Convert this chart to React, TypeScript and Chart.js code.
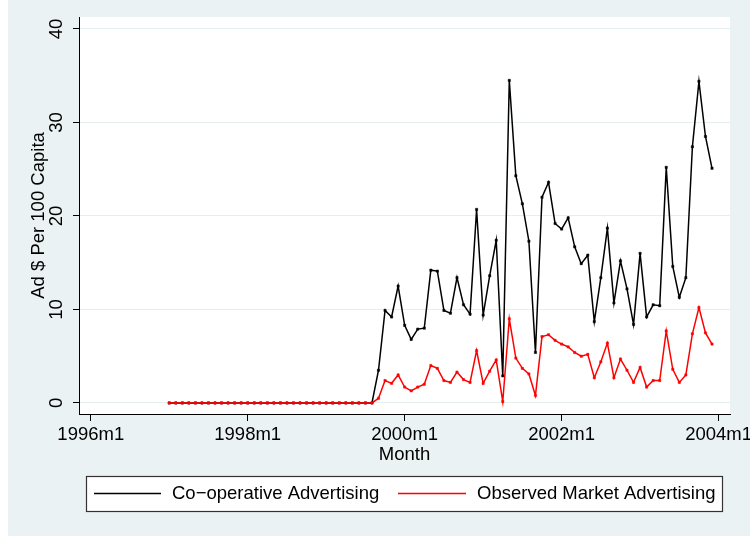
import React, { useEffect, useRef } from "react";
import { Chart, registerables } from "chart.js";

Chart.register(...registerables);

// Monthly observations from 1997m1 to 2003m12
const START_YEAR = 1997;
const AXIS_START_YEAR = 1996;

const coopAdvertising = [
  0, 0, 0, 0, 0, 0, 0, 0, 0, 0, 0, 0,
  0, 0, 0, 0, 0, 0, 0, 0, 0, 0, 0, 0,
  0, 0, 0, 0, 0, 0, 0, 0,
  3.5, 9.9, 9.2, 12.5, 8.3, 6.8, 7.9, 8.0, 14.2, 14.1,
  9.9, 9.6, 13.4, 10.5, 9.5, 20.7, 9.4, 13.6, 17.4, 2.9,
  34.5, 24.3, 21.3, 17.3, 5.4, 22.0, 23.6, 19.2, 18.6, 19.8,
  16.7, 14.9, 15.8, 8.7, 13.4, 18.7, 10.7, 15.2, 12.2, 8.4,
  16.0, 9.2, 10.5, 10.4, 25.2, 14.6, 11.3, 13.4, 27.4, 34.4,
  28.5, 25.1,
];

const marketAdvertising = [
  0, 0, 0, 0, 0, 0, 0, 0, 0, 0, 0, 0,
  0, 0, 0, 0, 0, 0, 0, 0, 0, 0, 0, 0,
  0, 0, 0, 0, 0, 0, 0, 0,
  0.5, 2.4, 2.1, 3.0, 1.7, 1.3, 1.7, 2.0, 4.0, 3.7,
  2.4, 2.2, 3.3, 2.5, 2.2, 5.6, 2.1, 3.4, 4.6, 0.15,
  9.0, 4.8, 3.7, 3.1, 0.8, 7.1, 7.3, 6.7, 6.3, 6.0,
  5.4, 5.0, 5.2, 2.7, 4.4, 6.4, 2.7, 4.7, 3.5, 2.2,
  3.8, 1.7, 2.4, 2.4, 7.7, 3.6, 2.2, 3.0, 7.4, 10.2,
  7.5, 6.3,
];

const xTickLabels = ["1996m1", "1998m1", "2000m1", "2002m1", "2004m1"];
const yTickValues = [0, 10, 20, 30, 40];
const seriesNames = ["Co\u2212operative Advertising", "Observed Market Advertising"];
const seriesColors = ["#000000", "#ff0000"];

const FONT = '"Liberation Sans", Arial, Helvetica, sans-serif';
const FONT_SIZE = 18.5;
const BG = "#eaf2f3";
const GRID = "#e6eef0";

// month offset (from 1996m1) of each observation
const monthIndex = (i: number) => (START_YEAR - AXIS_START_YEAR) * 12 + i;
const labelToIndex = (s: string) => {
  const [y, m] = s.split("m").map(Number);
  return (y - AXIS_START_YEAR) * 12 + (m - 1);
};
const indexToLabel = (v: number) =>
  `${AXIS_START_YEAR + Math.floor(v / 12)}m${(v % 12) + 1}`;

const backgroundPlugin = {
  id: "stataBackground",
  beforeDraw(chart: any) {
    const { ctx, chartArea } = chart;
    ctx.save();
    ctx.fillStyle = BG;
    ctx.fillRect(0, 0, chart.width, chart.height);
    ctx.fillStyle = "#ffffff";
    ctx.fillRect(
      chartArea.left,
      chartArea.top,
      chartArea.right - chartArea.left,
      chartArea.bottom - chartArea.top
    );
    ctx.restore();
  },
};

const legendPlugin = {
  id: "stataLegend",
  afterDraw(chart: any) {
    const { ctx } = chart;
    const boxLeft = 78;
    const boxRight = 714;
    const boxTop = 476;
    const boxBottom = 511;
    const cy = (boxTop + boxBottom) / 2;
    ctx.save();
    ctx.fillStyle = "#ffffff";
    ctx.fillRect(boxLeft, boxTop, boxRight - boxLeft, boxBottom - boxTop);
    ctx.strokeStyle = "#333333";
    ctx.lineWidth = 1.2;
    ctx.strokeRect(boxLeft + 0.5, boxTop + 0.5, boxRight - boxLeft, boxBottom - boxTop);
    const items = [
      { x0: 86, x1: 153, tx: 164 },
      { x0: 390, x1: 458, tx: 469 },
    ];
    ctx.font = `${FONT_SIZE}px ${FONT}`;
    ctx.textBaseline = "middle";
    ctx.textAlign = "left";
    items.forEach((it, i) => {
      ctx.strokeStyle = seriesColors[i];
      ctx.lineWidth = 1.5;
      ctx.beginPath();
      ctx.moveTo(it.x0, cy);
      ctx.lineTo(it.x1, cy);
      ctx.stroke();
      ctx.fillStyle = "#000000";
      ctx.fillText(seriesNames[i], it.tx, cy + 0.5);
    });
    ctx.restore();
  },
};

export default function App() {
  const canvasRef = useRef<HTMLCanvasElement | null>(null);

  useEffect(() => {
    if (!canvasRef.current) return;
    const makeData = (vals: number[]) =>
      vals.map((v, i) => ({ x: monthIndex(i), y: v }));

    const chart = new Chart(canvasRef.current, {
      type: "line",
      data: {
        datasets: [
          {
            label: seriesNames[0],
            data: makeData(coopAdvertising),
            borderColor: seriesColors[0],
            backgroundColor: seriesColors[0],
            pointBackgroundColor: seriesColors[0],
            pointBorderColor: seriesColors[0],
            borderWidth: 1.5,
            pointStyle: "rect",
            pointRadius: 1.6,
            pointBorderWidth: 0.5,
            tension: 0,
            order: 1,
          },
          {
            label: seriesNames[1],
            data: makeData(marketAdvertising),
            borderColor: seriesColors[1],
            backgroundColor: seriesColors[1],
            pointBackgroundColor: seriesColors[1],
            pointBorderColor: seriesColors[1],
            borderWidth: 1.5,
            pointStyle: "rect",
            pointRadius: 1.6,
            pointBorderWidth: 0.5,
            tension: 0,
            order: 0,
          },
        ],
      },
      options: {
        animation: false,
        responsive: false,
        maintainAspectRatio: false,
        layout: { padding: { left: 0, right: 20, top: 17, bottom: 70 } },
        plugins: {
          legend: { display: false },
          tooltip: { enabled: false },
        },
        scales: {
          x: {
            type: "linear",
            position: "bottom",
            min: -1.8,
            max: 97.75,
            afterBuildTicks: (scale: any) => {
              scale.ticks = xTickLabels.map((l) => ({ value: labelToIndex(l) }));
            },
            afterFit: (scale: any) => {
              scale.height = 52;
              scale.paddingLeft = 0;
              scale.paddingRight = 0;
            },
            ticks: {
              autoSkip: false,
              maxRotation: 0,
              minRotation: 0,
              padding: 3,
              color: "#000",
              font: { family: FONT, size: FONT_SIZE },
              callback: (v: any) => indexToLabel(Number(v)),
            },
            grid: {
              drawOnChartArea: false,
              drawTicks: true,
              tickLength: 7,
              tickColor: "#000",
              tickWidth: 1,
            },
            border: { display: true, color: "#000", width: 1 },
            title: {
              display: true,
              text: "Month",
              color: "#000",
              font: { family: FONT, size: FONT_SIZE },
              padding: { top: 0, bottom: 0 },
            },
          },
          y: {
            type: "linear",
            min: -1.18,
            max: 41.28,
            afterBuildTicks: (scale: any) => {
              scale.ticks = yTickValues.map((v) => ({ value: v }));
            },
            afterFit: (scale: any) => {
              scale.width = 71;
              scale.paddingTop = 0;
              scale.paddingBottom = 0;
            },
            ticks: {
              autoSkip: false,
              minRotation: 90,
              maxRotation: 90,
              crossAlign: "center",
              padding: 6,
              color: "#000",
              font: { family: FONT, size: FONT_SIZE },
            },
            grid: {
              color: GRID,
              lineWidth: 1,
              drawTicks: true,
              tickLength: 6,
              tickColor: "#000",
              tickWidth: 1,
            },
            border: { display: true, color: "#000", width: 1 },
            title: {
              display: true,
              text: "Ad $ Per 100 Capita",
              color: "#000",
              font: { family: FONT, size: FONT_SIZE },
              padding: { top: 20, bottom: 0 },
            },
          },
        },
      },
      plugins: [backgroundPlugin, legendPlugin],
    } as any);

    return () => chart.destroy();
  }, []);

  return (
    <div style={{ position: "absolute", left: 8, top: 0, width: 742, height: 536 }}>
      <canvas ref={canvasRef} width={742} height={536} style={{ display: "block" }} />
    </div>
  );
}
